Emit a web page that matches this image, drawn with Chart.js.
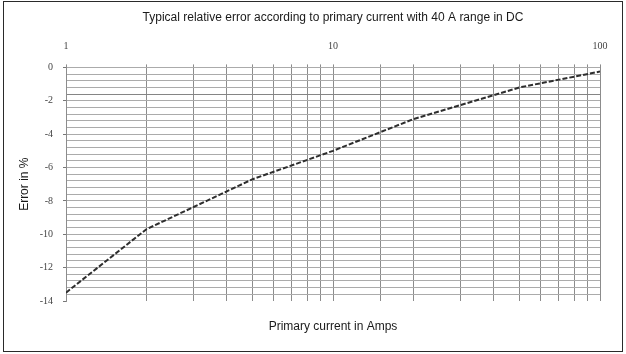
<!DOCTYPE html>
<html>
<head>
<meta charset="utf-8">
<script src="https://cdn.jsdelivr.net/npm/chart.js@4"></script>
<style>
  html, body { margin: 0; padding: 0; background: #fff; }
  #wrap { position: relative; width: 626px; height: 354px; }
  #frame { position: absolute; left: 3px; top: 1px; width: 620px; height: 351px;
           box-sizing: border-box; border: 1.5px solid #2a2a2a; pointer-events: none; }
  canvas { position: absolute; left: 0; top: 0; }
</style>
</head>
<body>
<div id="wrap">
  <canvas id="c" width="626" height="354"></canvas>
  <div id="frame"></div>
</div>
<script>
// Primary current (A) and measured relative error (%)
const currents = [1, 2, 5, 10, 20, 50, 100];
const errors = [-13.5, -9.7, -6.7, -5.0, -3.1, -1.2, -0.25];

// Axis ranges and labelled ticks
const xDecadeLabels = [1, 10, 100];
const yMin = -14;
const yMax = 0;
const yMinorStep = 0.4;
const yLabelStep = 2;

const chartTitle = 'Typical relative error according to primary current with 40 A range in DC';
const xTitle = 'Primary current in Amps';
const yTitle = 'Error in %';

const points = currents.map((c, i) => ({ x: c, y: errors[i] }));

const serif = "'Liberation Serif', 'DejaVu Serif', serif";
const sans = "'Liberation Sans', Arial, sans-serif";

function isYLabel(v) {
  const r = Math.round(v);
  return Math.abs(v - r) < 1e-6 && r % yLabelStep === 0;
}

new Chart(document.getElementById('c'), {
  type: 'line',
  data: {
    datasets: [{
      data: points,
      borderColor: '#2e2e2e',
      borderWidth: 2,
      borderDash: [5, 2],
      pointRadius: 0,
      tension: 0,
      fill: false,
      xAxisID: 'x',
      yAxisID: 'y'
    }]
  },
  options: {
    responsive: false,
    animation: false,
    layout: { padding: { left: 4, right: 26, top: 0, bottom: 0 } },
    plugins: {
      legend: { display: false },
      tooltip: { enabled: false }
    },
    scales: {
      x: {
        type: 'logarithmic',
        position: 'top',
        min: 1,
        max: 100,
        border: { display: false },
        grid: { color: '#8c8c8c', lineWidth: 1, tickLength: 3, tickColor: '#8c8c8c' },
        ticks: {
          autoSkip: false,
          maxRotation: 0,
          padding: 12,
          color: '#444',
          font: { family: serif, size: 10 },
          callback: (v) => xDecadeLabels.includes(v) ? String(v) : ''
        },
        // chart heading sits above the decade labels, centred on the plot
        title: {
          display: true,
          text: chartTitle,
          color: '#1a1a1a',
          font: { family: sans, size: 12 },
          padding: { top: 10.8, bottom: 0 }
        },
        afterFit: (s) => { s.height = 67.4; }
      },
      xb: {
        type: 'linear',
        position: 'bottom',
        min: 0,
        max: 1,
        grid: { display: false },
        border: { display: false },
        ticks: { display: false },
        title: {
          display: true,
          text: xTitle,
          color: '#1a1a1a',
          font: { family: sans, size: 12 },
          padding: { top: 0, bottom: 20 }
        },
        afterFit: (s) => { s.height = 53; }
      },
      y: {
        type: 'linear',
        position: 'left',
        min: yMin,
        max: yMax,
        border: { display: true, color: '#8c8c8c', width: 1 },
        grid: {
          lineWidth: 1,
          tickLength: 3,
          color: (ctx) => {
            const v = ctx.tick ? ctx.tick.value : 0;
            if (Math.abs(v - yMin) < 1e-6) return 'rgba(0,0,0,0)';
            if (Math.abs(v + 1.6) < 1e-6) return '#858585';
            return '#ababab';
          },
          tickColor: (ctx) => (ctx.tick && isYLabel(ctx.tick.value)) ? '#777' : 'rgba(0,0,0,0)'
        },
        ticks: {
          stepSize: yMinorStep,
          autoSkip: false,
          padding: 10,
          color: '#444',
          font: { family: serif, size: 10 },
          callback: (v) => isYLabel(v) ? String(Math.round(v)) : ''
        },
        title: {
          display: true,
          text: yTitle,
          color: '#1a1a1a',
          font: { family: sans, size: 12 },
          padding: { top: 13, bottom: 0 }
        },
        afterFit: (s) => { s.width = 62; }
      }
    }
  }
});
</script>
</body>
</html>
